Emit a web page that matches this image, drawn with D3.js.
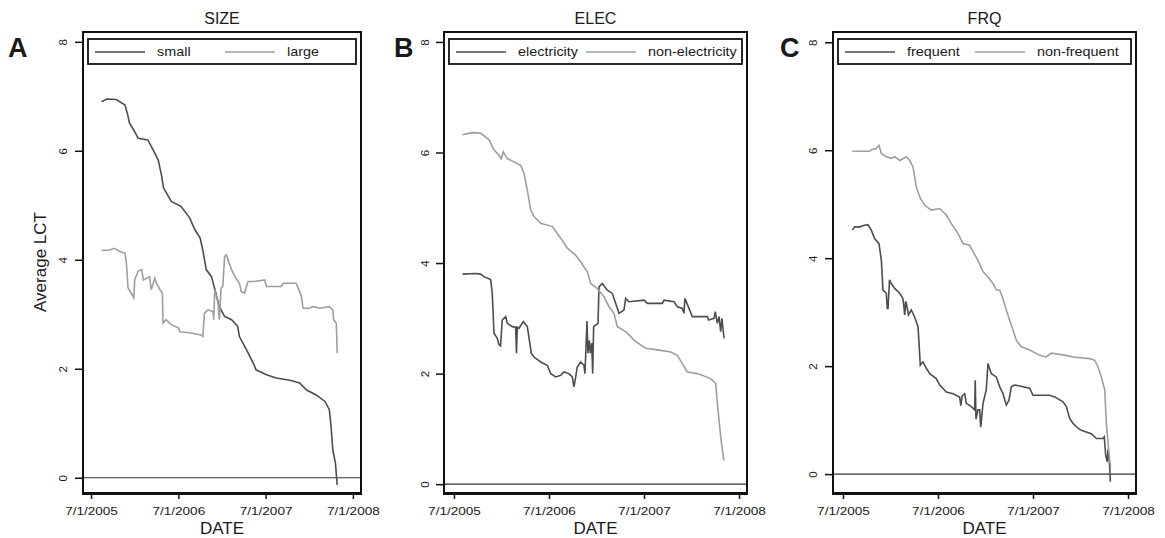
<!DOCTYPE html>
<html>
<head>
<meta charset="utf-8">
<script src="https://cdn.jsdelivr.net/npm/d3@7"></script>
<style>
  body { margin: 0; background: #fff; }
  svg text { font-family: "Liberation Sans", Arial, sans-serif; fill: #1a1a1a; }
</style>
</head>
<body>
<svg id="chart" width="1165" height="538"></svg>
<script>
// x positions are decimal years, y is average LCT
var yTicks = [0, 2, 4, 6, 8];
var xTicks = [2005.5, 2006.5, 2007.5, 2008.5];
var xTickLabels = ["7/1/2005", "7/1/2006", "7/1/2007", "7/1/2008"];

var panelTitles = ["SIZE", "ELEC", "FRQ"];
var panelLetters = ["A", "B", "C"];
var legendLabels = [["small", "large"], ["electricity", "non-electricity"], ["frequent", "non-frequent"]];

var sizeSmall = [[2005.62,6.90],[2005.68,6.95],[2005.79,6.94],[2005.89,6.84],[2005.92,6.66],[2005.94,6.51],[2006.00,6.35],[2006.04,6.23],[2006.15,6.20],[2006.21,6.02],[2006.27,5.83],[2006.31,5.53],[2006.33,5.32],[2006.42,5.07],[2006.53,4.98],[2006.63,4.77],[2006.69,4.55],[2006.75,4.40],[2006.78,4.18],[2006.82,3.82],[2006.88,3.69],[2006.92,3.45],[2006.97,3.14],[2007.03,2.96],[2007.11,2.90],[2007.18,2.78],[2007.20,2.59],[2007.28,2.35],[2007.36,2.10],[2007.39,1.98],[2007.51,1.89],[2007.62,1.83],[2007.78,1.79],[2007.89,1.74],[2007.97,1.61],[2008.08,1.52],[2008.18,1.40],[2008.23,1.25],[2008.25,0.94],[2008.27,0.51],[2008.30,0.27],[2008.32,-0.13]];

var sizeLarge = [[2005.62,4.17],[2005.71,4.18],[2005.77,4.21],[2005.83,4.15],[2005.89,4.12],[2005.905,3.94],[2005.924,3.48],[2005.96,3.39],[2005.99,3.30],[2006.00,3.63],[2006.04,3.79],[2006.08,3.82],[2006.10,3.63],[2006.17,3.69],[2006.19,3.45],[2006.23,3.66],[2006.25,3.57],[2006.29,3.45],[2006.317,3.39],[2006.325,2.84],[2006.36,2.90],[2006.42,2.81],[2006.50,2.75],[2006.52,2.68],[2006.63,2.66],[2006.76,2.62],[2006.78,2.59],[2006.80,3.02],[2006.84,3.08],[2006.897,3.05],[2006.906,2.90],[2006.917,3.45],[2006.955,3.21],[2006.97,2.90],[2006.99,3.48],[2007.01,3.51],[2007.03,4.06],[2007.05,4.09],[2007.07,4.00],[2007.11,3.82],[2007.16,3.66],[2007.20,3.57],[2007.22,3.42],[2007.26,3.39],[2007.28,3.51],[2007.30,3.60],[2007.36,3.60],[2007.49,3.63],[2007.51,3.51],[2007.68,3.51],[2007.70,3.57],[2007.85,3.57],[2007.91,3.33],[2007.93,3.11],[2008.00,3.11],[2008.04,3.14],[2008.12,3.11],[2008.23,3.14],[2008.27,3.08],[2008.28,2.90],[2008.31,2.84],[2008.32,2.29]];

var elecYes = [[2005.59,3.80],[2005.73,3.81],[2005.78,3.80],[2005.82,3.75],[2005.886,3.70],[2005.903,3.45],[2005.921,2.73],[2005.956,2.64],[2005.974,2.52],[2005.99,2.50],[2006.008,2.97],[2006.044,3.03],[2006.061,2.91],[2006.114,2.85],[2006.149,2.84],[2006.158,2.37],[2006.166,2.84],[2006.184,2.82],[2006.23,2.94],[2006.272,2.85],[2006.314,2.37],[2006.342,2.30],[2006.413,2.21],[2006.482,2.15],[2006.518,2.00],[2006.571,1.94],[2006.623,1.97],[2006.658,2.03],[2006.711,2.00],[2006.745,1.94],[2006.763,1.76],[2006.781,1.94],[2006.798,2.12],[2006.834,2.21],[2006.868,2.15],[2006.878,2.00],[2006.89,2.49],[2006.90,2.95],[2006.91,2.37],[2006.925,2.60],[2006.935,2.37],[2006.95,2.55],[2006.96,2.00],[2006.97,2.85],[2007.016,2.91],[2007.026,3.57],[2007.061,3.63],[2007.114,3.51],[2007.167,3.45],[2007.202,3.27],[2007.237,3.09],[2007.289,3.15],[2007.307,3.36],[2007.342,3.30],[2007.50,3.33],[2007.535,3.27],[2007.693,3.27],[2007.711,3.33],[2007.816,3.30],[2007.851,3.21],[2007.903,3.18],[2007.921,3.09],[2007.93,3.36],[2007.974,3.18],[2008.008,3.03],[2008.167,3.03],[2008.18,2.97],[2008.237,3.00],[2008.25,3.12],[2008.272,2.91],[2008.29,3.03],[2008.307,2.76],[2008.32,3.00],[2008.342,2.64]];

var elecNo = [[2005.59,6.32],[2005.69,6.36],[2005.78,6.35],[2005.87,6.23],[2005.92,6.05],[2005.974,5.95],[2005.998,5.89],[2006.019,6.01],[2006.061,5.89],[2006.202,5.77],[2006.237,5.62],[2006.272,5.32],[2006.307,4.96],[2006.342,4.84],[2006.413,4.72],[2006.535,4.66],[2006.623,4.45],[2006.693,4.27],[2006.781,4.14],[2006.834,4.02],[2006.903,3.84],[2006.939,3.63],[2007.008,3.54],[2007.079,3.39],[2007.132,3.21],[2007.184,3.09],[2007.219,2.85],[2007.307,2.76],[2007.413,2.58],[2007.518,2.46],[2007.64,2.43],[2007.781,2.39],[2007.851,2.33],[2007.903,2.18],[2007.956,2.03],[2008.061,2.00],[2008.202,1.91],[2008.255,1.82],[2008.272,1.46],[2008.30,0.98],[2008.324,0.62],[2008.342,0.43]];

var frqYes = [[2005.598,4.52],[2005.623,4.58],[2005.676,4.58],[2005.728,4.61],[2005.763,4.62],[2005.798,4.52],[2005.834,4.36],[2005.879,4.27],[2005.904,3.96],[2005.921,3.41],[2005.956,3.35],[2005.966,3.07],[2005.974,3.07],[2005.99,3.60],[2006.008,3.53],[2006.044,3.44],[2006.097,3.35],[2006.132,3.25],[2006.15,2.95],[2006.16,3.20],[2006.167,3.16],[2006.19,2.95],[2006.219,3.04],[2006.254,2.91],[2006.29,2.73],[2006.314,2.02],[2006.342,2.08],[2006.377,1.96],[2006.413,1.86],[2006.482,1.77],[2006.518,1.65],[2006.588,1.52],[2006.658,1.49],[2006.728,1.43],[2006.74,1.27],[2006.755,1.45],[2006.781,1.49],[2006.798,1.31],[2006.851,1.25],[2006.886,1.19],[2006.892,1.74],[2006.90,1.02],[2006.92,1.19],[2006.939,1.19],[2006.95,0.87],[2006.974,1.31],[2007.008,1.56],[2007.026,2.05],[2007.061,1.86],[2007.114,1.80],[2007.149,1.62],[2007.184,1.49],[2007.219,1.28],[2007.247,1.37],[2007.272,1.62],[2007.307,1.65],[2007.395,1.62],[2007.465,1.59],[2007.50,1.46],[2007.605,1.46],[2007.675,1.46],[2007.728,1.43],[2007.816,1.34],[2007.851,1.25],[2007.886,1.03],[2007.921,0.94],[2007.974,0.85],[2008.008,0.81],[2008.114,0.75],[2008.167,0.66],[2008.237,0.66],[2008.25,0.69],[2008.265,0.35],[2008.28,0.23],[2008.29,0.46],[2008.307,0.14],[2008.314,-0.14]];

var frqNo = [[2005.598,5.98],[2005.781,5.98],[2005.798,6.01],[2005.851,6.03],[2005.879,6.09],[2005.904,5.94],[2005.956,5.88],[2006.008,5.85],[2006.044,5.88],[2006.097,5.81],[2006.167,5.88],[2006.202,5.81],[2006.237,5.69],[2006.272,5.32],[2006.314,5.11],[2006.36,4.98],[2006.43,4.89],[2006.518,4.92],[2006.588,4.80],[2006.64,4.64],[2006.71,4.46],[2006.763,4.27],[2006.834,4.24],[2006.868,4.12],[2006.921,3.96],[2006.974,3.75],[2007.026,3.65],[2007.079,3.53],[2007.114,3.41],[2007.149,3.41],[2007.184,3.25],[2007.219,3.04],[2007.254,2.85],[2007.289,2.67],[2007.324,2.48],[2007.377,2.36],[2007.465,2.30],[2007.57,2.20],[2007.64,2.17],[2007.693,2.24],[2007.851,2.20],[2007.921,2.17],[2008.097,2.14],[2008.149,2.11],[2008.184,1.99],[2008.219,1.80],[2008.255,1.56],[2008.272,0.94],[2008.29,0.57],[2008.307,0.26],[2008.318,0.14]];

var panelSeries = [[sizeSmall, sizeLarge], [elecYes, elecNo], [frqYes, frqNo]];

// layout of the three plot regions (pixels) and their axis ranges
var panels = [
  {left: 83,  right: 361,  xdom: [2005.408, 2008.593], ydom: [-0.28, 8.18], labelX: 63,  letterX: 8},
  {left: 444, right: 747,  xdom: [2005.395, 2008.584], ydom: [-0.16, 8.18], labelX: 425, letterX: 394},
  {left: 833, right: 1136, xdom: [2005.395, 2008.584], ydom: [-0.35, 8.19], labelX: 813, letterX: 780}
];
var plotTop = 32, plotBottom = 493;
var colors = ["#4d4d4d", "#9e9e9e"];

var svg = d3.select("#chart");

panels.forEach(function(p, i) {
  var x = d3.scaleLinear().domain(p.xdom).range([p.left, p.right]);
  var y = d3.scaleLinear().domain(p.ydom).range([plotBottom, plotTop]);
  var g = svg.append("g");

  // zero reference line
  g.append("line")
    .attr("x1", p.left).attr("x2", p.right)
    .attr("y1", y(0)).attr("y2", y(0))
    .attr("stroke", "#333").attr("stroke-width", 1.2);

  // series
  var line = d3.line()
    .x(function(d) { return x(d[0]); })
    .y(function(d) { return y(d[1]); });
  panelSeries[i].forEach(function(s, k) {
    g.append("path")
      .datum(s)
      .attr("d", line)
      .attr("fill", "none")
      .attr("stroke", colors[k])
      .attr("stroke-width", 1.6)
      .attr("stroke-linejoin", "miter");
  });

  // frame
  g.append("rect")
    .attr("x", p.left).attr("y", plotTop)
    .attr("width", p.right - p.left).attr("height", plotBottom - plotTop)
    .attr("fill", "none").attr("stroke", "#111").attr("stroke-width", 2);
  g.append("line")
    .attr("x1", p.left - 1).attr("x2", p.right + 1)
    .attr("y1", plotBottom + 1).attr("y2", plotBottom + 1)
    .attr("stroke", "#111").attr("stroke-width", 2);

  // y axis
  var ya = g.append("g").attr("transform", "translate(" + p.left + ",0)")
    .call(d3.axisLeft(y).tickValues(yTicks).tickSize(8).tickFormat(d3.format("d")));
  ya.select(".domain").remove();
  ya.selectAll(".tick line").attr("stroke", "#111").attr("stroke-width", 1.5);
  ya.selectAll(".tick text").remove();
  ya.selectAll(".tick").append("text")
    .attr("transform", "translate(" + (p.labelX - p.left + 4) + ",0) rotate(-90)")
    .attr("text-anchor", "middle")
    .attr("font-size", 11.5)
    .text(function(d) { return d; });

  // x axis
  var xa = g.append("g").attr("transform", "translate(0," + (plotBottom + 1) + ")")
    .call(d3.axisBottom(x).tickValues(xTicks).tickSize(5)
      .tickFormat(function(d, j) { return xTickLabels[j]; }));
  xa.select(".domain").remove();
  xa.selectAll(".tick line").attr("stroke", "#111").attr("stroke-width", 1.5);
  xa.selectAll(".tick text")
    .attr("y", 0).attr("dy", 0)
    .attr("font-size", 11.5)
    .attr("fill", "#1a1a1a")
    .attr("transform", "translate(0,21) scale(1.18,1)");

  var cx = (p.left + p.right) / 2;
  g.append("text")
    .attr("x", cx).attr("y", 534)
    .attr("text-anchor", "middle").attr("font-size", 17)
    .text("DATE");

  g.append("text")
    .attr("x", cx).attr("y", 24)
    .attr("text-anchor", "middle").attr("font-size", 16)
    .text(panelTitles[i]);

  g.append("text")
    .attr("x", p.letterX).attr("y", 57)
    .attr("font-size", 27).attr("font-weight", "bold").attr("fill", "#000")
    .text(panelLetters[i]);

  // legend
  var lx = p.left + 5, lw = (p.right - 5) - lx;
  var leg = g.append("g");
  leg.append("rect")
    .attr("x", lx).attr("y", 39).attr("width", lw).attr("height", 25)
    .attr("fill", "#fff").attr("stroke", "#111").attr("stroke-width", 1.8);
  legendLabels[i].forEach(function(lab, k) {
    var sx = lx + 7 + k * 130;
    leg.append("line")
      .attr("x1", sx).attr("x2", sx + 50)
      .attr("y1", 52).attr("y2", 52)
      .attr("stroke", colors[k]).attr("stroke-width", 1.4);
    leg.append("text")
      .attr("transform", "translate(" + (sx + 62) + ",56) scale(1.2,1)")
      .attr("font-size", 12)
      .text(lab);
  });
});

svg.append("text")
  .attr("transform", "translate(46,262) rotate(-90)")
  .attr("text-anchor", "middle").attr("font-size", 17)
  .text("Average LCT");
</script>
</body>
</html>
